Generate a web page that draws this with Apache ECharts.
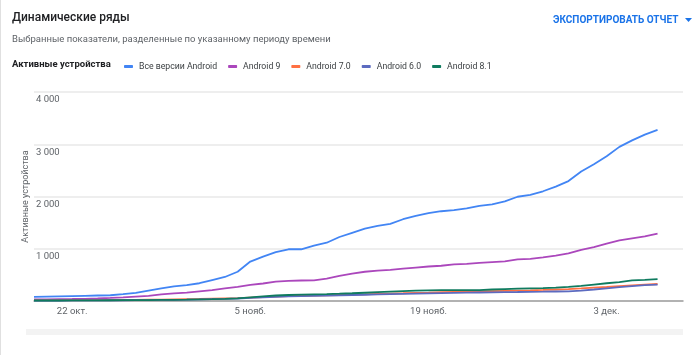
<!DOCTYPE html>
<html>
<head>
<meta charset="utf-8">
<script src="https://cdn.jsdelivr.net/npm/echarts@6/dist/echarts.min.js"></script>
<style>
html,body{margin:0;padding:0;background:#fff;}
#chart{width:700px;height:355px;}
</style>
</head>
<body>
<div id="chart"></div>
<script>
// ---- data ----
const categories = [
  "19 окт.","20 окт.","21 окт.","22 окт.","23 окт.","24 окт.","25 окт.","26 окт.","27 окт.","28 окт.","29 окт.","30 окт.","31 окт.",
  "1 нояб.","2 нояб.","3 нояб.","4 нояб.","5 нояб.","6 нояб.","7 нояб.","8 нояб.","9 нояб.","10 нояб.","11 нояб.","12 нояб.","13 нояб.",
  "14 нояб.","15 нояб.","16 нояб.","17 нояб.","18 нояб.","19 нояб.","20 нояб.","21 нояб.","22 нояб.","23 нояб.","24 нояб.","25 нояб.",
  "26 нояб.","27 нояб.","28 нояб.","29 нояб.","30 нояб.",
  "1 дек.","2 дек.","3 дек.","4 дек.","5 дек.","6 дек.","7 дек.","8 дек.","9 дек."
];
const shownLabels = ["22 окт.","5 нояб.","19 нояб.","3 дек."];
const seriesNames = ["Все версии Android","Android 9","Android 7.0","Android 6.0","Android 8.1"];
const allAndroid = [80,85,90,95,100,105,110,130,155,200,
  240,280,305,340,400,460,560,755,850,935,
  990,990,1060,1115,1225,1305,1385,1437,1475,1565,
  1628,1680,1718,1740,1772,1820,1850,1905,1995,2030,
  2100,2190,2295,2480,2619,2770,2950,3075,3185,3276];
const android9 = [30,32,35,38,42,48,58,70,85,100,
  125,145,160,185,210,240,270,310,335,370,
  385,392,395,430,480,525,560,580,595,620,
  640,660,675,700,710,730,745,760,795,805,
  835,870,910,980,1030,1100,1160,1200,1235,1290];
const android70 = [15,15,15,16,16,17,18,20,22,25,28,32,36,40,45,50,55,
  65,75,85,92,98,102,108,115,122,128,135,142,148,155,160,168,175,180,185,190,
  195,200,205,212,220,228,240,255,268,285,300,315,325];
const android60 = [10,10,10,11,11,12,13,14,16,18,20,23,26,30,35,40,48,
  60,70,80,88,95,100,105,110,115,120,125,130,135,140,145,150,155,160,163,166,
  170,172,175,178,182,185,200,220,243,265,285,302,315];
const android81 = [10,10,10,12,12,12,14,15,16,18,20,22,25,30,35,42,50,
  70,90,105,115,122,128,133,140,148,158,168,178,188,198,205,210,210,208,210,220,
  228,235,240,245,255,270,290,315,340,360,395,405,420];
const yTicks = [0,1000,2000,3000,4000];
const colors = ["#4285F4","#AB47BC","#FF7043","#5C6BC0","#0F7B5F"];

const seriesData = [allAndroid, android9, android70, android60, android81];

const chart = echarts.init(document.getElementById('chart'));
const font = 'Roboto, "Noto Sans", sans-serif';

chart.setOption({
  animation: false,
  color: colors,
  textStyle: {fontFamily: font},
  grid: {left: 34, right: 17, top: 92, bottom: 54, containLabel: false},
  graphic: [
    {type:'line', shape:{x1:0.5,y1:0,x2:0.5,y2:355}, style:{stroke:'#e0e0e0', lineWidth:1}},
    {type:'text', left:12, top:12, style:{text:'Динамические ряды', font:'500 12px '+font, fill:'#202124'}},
    {type:'text', left:12, top:35, style:{text:'Выбранные показатели, разделенные по указанному периоду времени', font:'9.5px '+font, fill:'#5f6368'}},
    {type:'text', left:12, top:60, style:{text:'Активные устройства', font:'bold 9.5px '+font, fill:'#202124'}},
    {type:'text', left:553, top:15, style:{text:'ЭКСПОРТИРОВАТЬ ОТЧЕТ', font:'bold 10px '+font, fill:'#1a73e8'}},
    {type:'polygon', shape:{points:[[685,18],[692,18],[688.5,22]]}, style:{fill:'#1a73e8'}},
    {type:'rect', shape:{x:26,y:329,width:657,height:6}, style:{fill:'#f3f3f3'}}
  ],
  legend: {
    left: 119, top: 57,
    icon: 'roundRect',
    itemWidth: 9, itemHeight: 3,
    itemGap: 11,
    textStyle: {fontSize: 8.7, color:'#3c4043', fontFamily: font, padding:[0,0,0,1]},
    data: seriesNames
  },
  xAxis: {
    type: 'category',
    data: categories,
    boundaryGap: false,
    axisTick: {show:false},
    axisLine: {lineStyle:{color:'#9e9e9e', width:1.5}},
    axisLabel: {
      interval: (i, v) => shownLabels.indexOf(v) >= 0,
      color:'#5f6368', fontSize: 9.5, margin: 6, fontFamily: font
    },
    splitLine: {show:false}
  },
  yAxis: {
    type: 'value',
    min: yTicks[0], max: yTicks[yTicks.length-1], interval: 1000,
    name: 'Активные устройства',
    nameLocation: 'middle', nameRotate: 90, nameGap: 4,
    nameMoveOverlap: false,
    nameTextStyle: {color:'#5f6368', fontSize: 9, fontFamily: font},
    axisLine: {show:false}, axisTick: {show:false},
    axisLabel: {
      inside: true, showMinLabel: false, margin: 2,
      verticalAlign: 'top', padding:[3,0,0,0],
      color:'#5f6368', fontSize: 9.5, fontFamily: font,
      formatter: v => String(v).replace(/\B(?=(\d{3})+(?!\d))/g, ' ')
    },
    splitLine: {lineStyle:{color:'#e8e8e8', width:1.5}}
  },
  series: seriesNames.map((n, k) => ({
    name: n, type: 'line', data: seriesData[k],
    showSymbol: false, symbol: 'none',
    lineStyle: {width: 1.8},
    z: 2 + k
  }))
});
</script>
</body>
</html>
